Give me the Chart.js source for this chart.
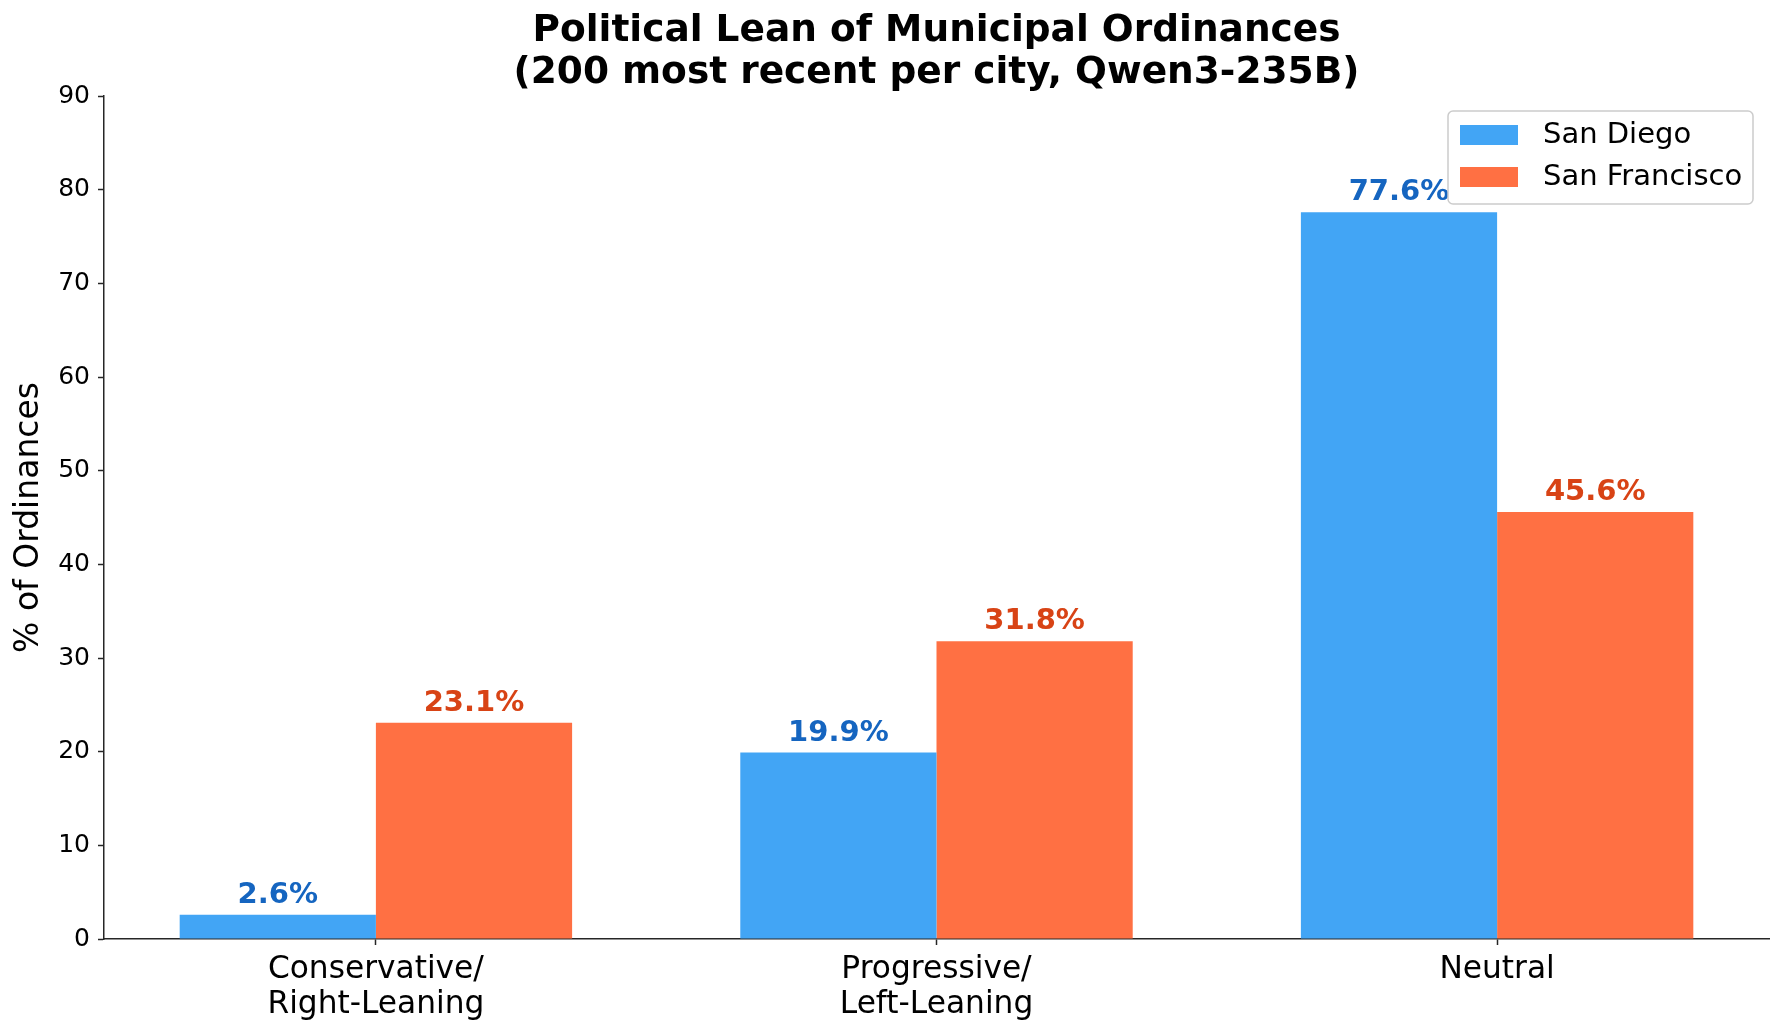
<!DOCTYPE html>
<html>
<head>
<meta charset="utf-8">
<script src="https://cdn.jsdelivr.net/npm/chart.js@4.4.1/dist/chart.umd.min.js"></script>
<style>
  html, body { margin: 0; padding: 0; background: #fff; }
  #wrap { width: 1783px; height: 1036px; }
</style>
</head>
<body>
<div id="wrap"><canvas id="leanChart" width="1783" height="1036"></canvas></div>
<script>
// Chart data
const categories = [['Conservative/', 'Right-Leaning'], ['Progressive/', 'Left-Leaning'], ['Neutral']];
const sanDiego = [2.6, 19.9, 77.6];
const sanFrancisco = [23.1, 31.8, 45.6];
const yTicks = [0, 10, 20, 30, 40, 50, 60, 70, 80, 90];

const FONT = "'DejaVu Sans', Verdana, sans-serif";
const axisColor = '#262626';

// Value labels above each bar
const valueLabels = {
    id: 'valueLabels',
    afterDatasetsDraw(chart) {
        const ctx = chart.ctx;
        ctx.save();
        ctx.font = 'bold 29px ' + FONT;
        ctx.textAlign = 'center';
        ctx.textBaseline = 'alphabetic';
        chart.data.datasets.forEach((ds, i) => {
            const meta = chart.getDatasetMeta(i);
            ctx.fillStyle = ds.labelColor;
            meta.data.forEach((bar, j) => {
                ctx.fillText(ds.data[j].y.toFixed(1) + '%', bar.x, bar.y - 12);
            });
        });
        ctx.restore();
    }
};

// Legend drawn inside the plot, on top of everything (like matplotlib)
const boxLegend = {
    id: 'boxLegend',
    afterDraw(chart) {
        const ctx = chart.ctx;
        const area = chart.chartArea;
        const w = 305, h = 93;
        const x = area.right - 16 - w, y = area.top + 15;
        ctx.save();
        ctx.beginPath();
        ctx.roundRect(x, y, w, h, 5);
        ctx.fillStyle = 'rgba(255,255,255,0.8)';
        ctx.fill();
        ctx.strokeStyle = '#cccccc';
        ctx.lineWidth = 1.5;
        ctx.stroke();
        ctx.font = '29px ' + FONT;
        ctx.textBaseline = 'middle';
        ctx.textAlign = 'left';
        chart.data.datasets.forEach((ds, i) => {
            const rowY = y + 24 + i * 42;
            ctx.fillStyle = ds.backgroundColor;
            ctx.fillRect(x + 12, rowY - 10, 58, 20);
            ctx.fillStyle = '#000';
            ctx.fillText(ds.label, x + 95, rowY);
        });
        ctx.restore();
    }
};

new Chart(document.getElementById('leanChart'), {
    type: 'bar',
    data: {
        datasets: [
            {
                label: 'San Diego',
                data: sanDiego.map((v, i) => ({ x: i, y: v })),
                backgroundColor: '#42A5F5',
                labelColor: '#1565C0',
                categoryPercentage: 0.7,
                barPercentage: 1.0
            },
            {
                label: 'San Francisco',
                data: sanFrancisco.map((v, i) => ({ x: i, y: v })),
                backgroundColor: '#FF7043',
                labelColor: '#D84315',
                categoryPercentage: 0.7,
                barPercentage: 1.0
            }
        ]
    },
    options: {
        responsive: false,
        animation: false,
        layout: { padding: { left: 0, right: 14, top: 0, bottom: 0 } },
        plugins: {
            legend: { display: false },
            tooltip: { enabled: false },
            title: {
                display: true,
                fullSize: false,
                text: ['Political Lean of Municipal Ordinances', '(200 most recent per city, Qwen3-235B)'],
                color: '#000',
                font: { family: FONT, size: 37.5, weight: 'bold', lineHeight: 1.12 },
                padding: { top: 10, bottom: 2 }
            }
        },
        scales: {
            x: {
                type: 'linear',
                offset: false,
                min: -0.485,
                max: 2.485,
                afterBuildTicks: (scale) => { scale.ticks = categories.map((c, i) => ({ value: i })); },
                afterFit: (scale) => { scale.height = 97; },
                ticks: {
                    callback: (v) => categories[v],
                    color: '#000',
                    font: { family: FONT, size: 31.25, lineHeight: 1.1 },
                    padding: 8,
                    maxRotation: 0,
                    autoSkip: false
                },
                grid: { offset: false, drawOnChartArea: false, drawTicks: true, tickLength: 6, tickColor: axisColor, tickWidth: 1.5 },
                border: { display: true, color: axisColor, width: 1.5 }
            },
            y: {
                min: 0,
                max: 90,
                afterBuildTicks: (scale) => { scale.ticks = yTicks.map(v => ({ value: v })); },
                afterFit: (scale) => { scale.width = 104; },
                ticks: {
                    color: '#000',
                    font: { family: FONT, size: 25 },
                    padding: 8
                },
                title: {
                    display: true,
                    text: '% of Ordinances',
                    color: '#000',
                    font: { family: FONT, size: 33 },
                    padding: { top: 10, bottom: 0 }
                },
                grid: { drawOnChartArea: false, drawTicks: true, tickLength: 6, tickColor: axisColor, tickWidth: 1.5 },
                border: { display: true, color: axisColor, width: 1.5 }
            }
        }
    },
    plugins: [valueLabels, boxLegend]
});
</script>
</body>
</html>
